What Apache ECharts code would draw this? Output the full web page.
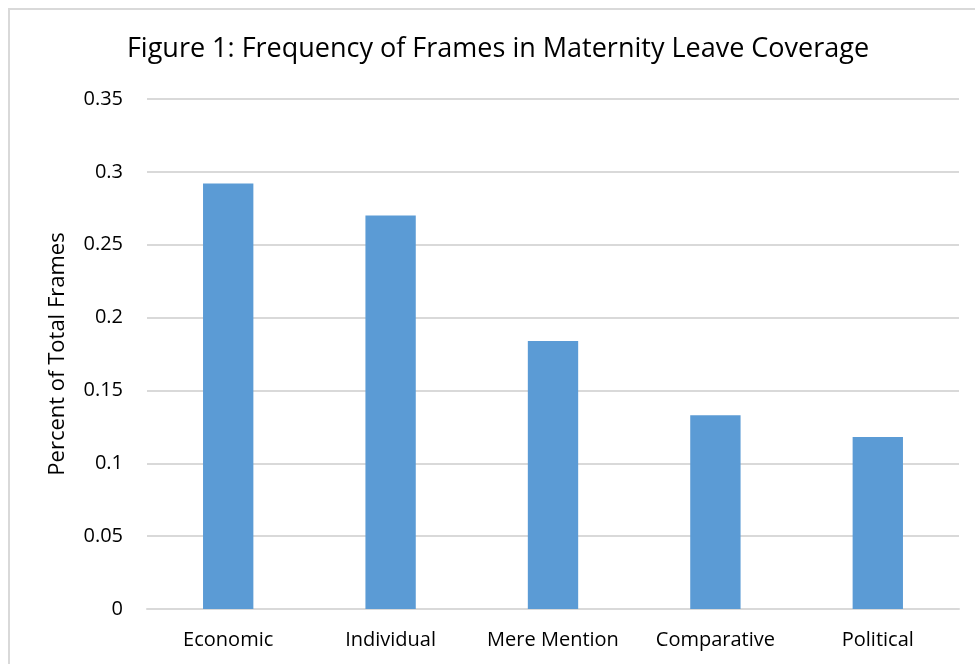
<!DOCTYPE html>
<html>
<head>
<meta charset="utf-8">
<script src="https://cdn.jsdelivr.net/npm/echarts@6/dist/echarts.min.js"></script>
<style>
html,body{margin:0;padding:0;background:#fff;}
#chart{width:975px;height:664px;}
</style>
</head>
<body>
<div id="chart"></div>
<script>
const categories = ["Economic", "Individual", "Mere Mention", "Comparative", "Political"];
const values = [0.292, 0.270, 0.184, 0.133, 0.118];
const titleText = "Figure 1: Frequency of Frames in Maternity Leave Coverage";
const yAxisName = "Percent of Total Frames";

const FONT = "Open Sans";
const chart = echarts.init(document.getElementById('chart'), null, {renderer: 'canvas'});
chart.setOption({
  backgroundColor: '#ffffff',
  animation: false,
  graphic: [{
    type: 'rect', silent: true, z: -1,
    shape: {x: 9, y: 9, width: 1000, height: 700},
    style: {fill: 'none', stroke: '#D9D9D9', lineWidth: 2}
  }],
  title: {
    text: titleText, left: 493, top: 31, textAlign: 'center',
    textStyle: {fontFamily: FONT, fontSize: 27, fontWeight: 'normal', color: '#000'}
  },
  grid: {left: 147, right: 16, top: 99, bottom: 55, containLabel: false},
  xAxis: {
    type: 'category', data: categories,
    axisLine: {show: true, lineStyle: {color: '#D9D9D9', width: 2}},
    axisTick: {show: false},
    axisLabel: {fontFamily: FONT, fontSize: 20, color: '#000', margin: 21, interval: 0, hideOverlap: false}
  },
  yAxis: {
    type: 'value', min: 0, max: 0.35, interval: 0.05,
    name: yAxisName, nameLocation: 'middle', nameGap: 78,
    nameTextStyle: {fontFamily: FONT, fontSize: 22, color: '#000'},
    axisLine: {show: false}, axisTick: {show: false},
    axisLabel: {fontFamily: FONT, fontSize: 20, color: '#000', margin: 24,
      formatter: v => String(Math.round(v * 100) / 100)},
    splitLine: {lineStyle: {color: '#D9D9D9', width: 2}}
  },
  series: [{
    type: 'bar', data: values, barWidth: '31%',
    itemStyle: {color: '#5B9BD5'}
  }]
});
</script>
</body>
</html>
